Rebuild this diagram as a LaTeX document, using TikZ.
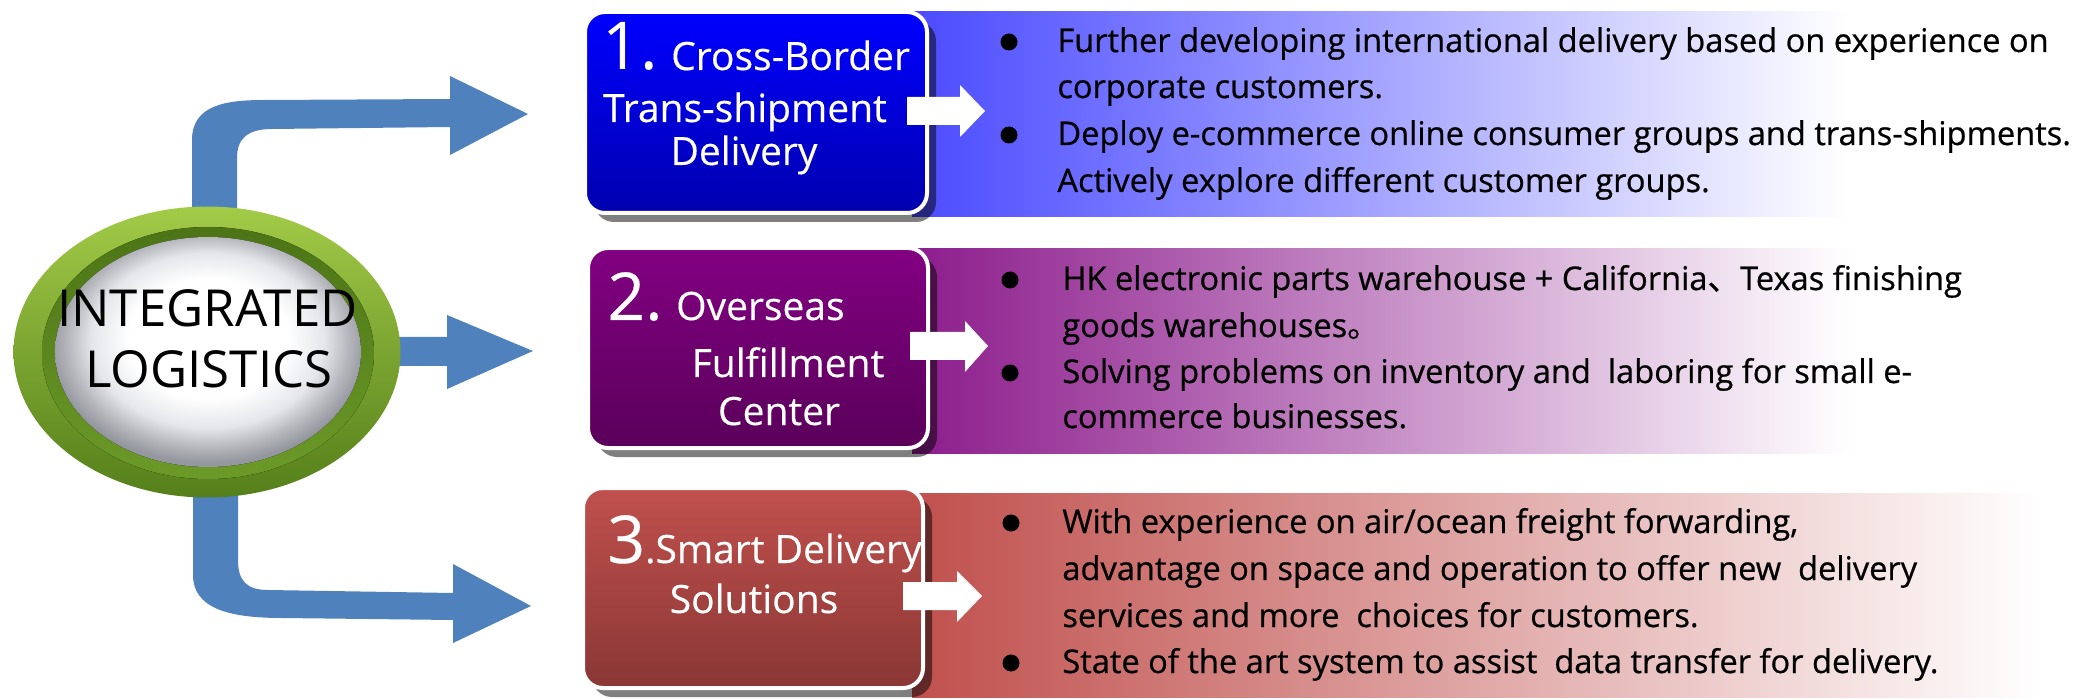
\documentclass[tikz,border=0pt]{standalone}
\usepackage{fontspec}
\setmainfont{Open Sans}
\newfontfamily\bulfont{Open Sans}[FakeBold=0.6]
\newfontfamily\ttlfont{Open Sans}[FakeBold=0.3]
\newfontfamily\cjk{Noto Sans CJK SC}[FakeBold=0.6]
\usetikzlibrary{shapes.geometric}
\definecolor{arrowblue}{HTML}{4F81BD}
\definecolor{boxAt}{HTML}{0000FF}
\definecolor{boxAb}{HTML}{0000AE}
\definecolor{panA}{HTML}{4B4BFF}
\definecolor{boxBt}{HTML}{820082}
\definecolor{boxBb}{HTML}{5A005A}
\definecolor{panB}{HTML}{8C1C8C}
\definecolor{boxCt}{HTML}{C0504D}
\definecolor{boxCb}{HTML}{8A3735}
\definecolor{panC}{HTML}{C0504D}
\definecolor{ringLight}{HTML}{A2CB48}
\definecolor{ringDark}{HTML}{557F1A}
\definecolor{rimDark}{HTML}{4C7416}
\definecolor{rimLight}{HTML}{6C9A28}
\definecolor{hubA}{HTML}{E4E6EA}
\definecolor{hubB}{HTML}{B4B6BC}
\definecolor{hubC}{HTML}{95979E}
\pgfdeclareradialshading{hubshade}{\pgfpoint{0bp}{4bp}}{color(0bp)=(white); color(13bp)=(white); color(19bp)=(hubA); color(23bp)=(hubB); color(26bp)=(hubC); color(50bp)=(hubC)}
\newcommand{\bignum}{\fontsize{33}{33}\selectfont}
\tikzset{
  panel/.style={rectangle, inner sep=0pt, right color=white},
  boxnode/.style={rectangle, rounded corners=10pt, draw=white, line width=2pt, inner sep=0pt},
  boxshadow/.style={fill=black, opacity=0.5, rounded corners=10pt},
  bul/.style={circle, fill=black, inner sep=0pt, minimum size=8.5pt},
  btxt/.style={anchor=base west, inner sep=0pt, font=\bulfont\fontsize{16.3}{20}\selectfont},
  ttl/.style={anchor=base, inner sep=0pt, text=white, font=\ttlfont\fontsize{19.5}{24}\selectfont},
  ttlw/.style={ttl, anchor=base west},
  hubtxt/.style={anchor=base, inner sep=0pt, font=\fontsize{25.5}{30}\selectfont},
  blockw/.style={fill=white},
  blockb/.style={fill=arrowblue}
}
\begin{document}
\begin{tikzpicture}[x=0.5pt,y=-0.5pt]
\useasboundingbox (0,0) rectangle (2100,700);

% panels
\node (p1) [panel, left color=panA, minimum width=469pt, minimum height=102.5pt] at (1381,114.5) {};
\node (p2) [panel, left color=panB, minimum width=469pt, minimum height=102pt] at (1381,351) {};
\node (p3) [panel, left color=panC, minimum width=564pt, minimum height=102pt] at (1476,595) {};

% box shadows
\fill[boxshadow] (594,21) rectangle (936,222);
\fill[boxshadow] (597,257) rectangle (937,457);
\fill[boxshadow] (592,497) rectangle (932,697);

% boxes
\node (b1) [boxnode, top color=boxAt, bottom color=boxAb, minimum width=171pt, minimum height=100.5pt] at (756,112.5) {};
\node (b2) [boxnode, top color=boxBt, bottom color=boxBb, minimum width=170pt, minimum height=100pt] at (758,348) {};
\node (b3) [boxnode, top color=boxCt, bottom color=boxCb, minimum width=170pt, minimum height=100pt] at (753,588) {};

% box titles
\node (t1a) [ttlw] at (602,70) {{\setmainfont{Open Sans}\bignum 1.} Cross-Border};
\node (t1b) [ttl] at (745,122) {Trans-shipment};
\node (t1c) [ttl] at (744,165) {Delivery};
\node (t2a) [ttlw] at (607,320) {{\bignum 2.} Overseas};
\node (t2b) [ttl] at (788,377) {Fulfillment};
\node (t2c) [ttl] at (779,425) {Center};
\node (t3a) [ttlw] at (607,563) {{\bignum 3}.Smart Delivery};
\node (t3b) [ttl] at (754,613) {Solutions};

% white block arrows box -> panel
\fill[blockw] (907,97) -- (960,97) -- (960,85) -- (985,111) -- (960,137) -- (960,125) -- (907,125) -- cycle;
\fill[blockw] (910,332) -- (965,332) -- (965,321) -- (988,346) -- (965,372) -- (965,360) -- (910,360) -- cycle;
\fill[blockw] (903,582) -- (957,582) -- (957,571) -- (982,596) -- (957,622) -- (957,610) -- (903,610) -- cycle;

% panel 1 text
\node (d1a) [bul] at (1009,42) {};
\node (l1a) [btxt] at (1057,52) {Further developing international delivery based on experience on};
\node (l1b) [btxt] at (1057,98) {corporate customers.};
\node (d1b) [bul] at (1009,135) {};
\node (l1c) [btxt] at (1057,145) {Deploy e-commerce online consumer groups and trans-shipments.};
\node (l1d) [btxt] at (1057,192) {Actively explore different customer groups.};

% panel 2 text
\node (d2a) [bul] at (1010,280) {};
\node (l2a) [btxt] at (1062,290) {HK electronic parts warehouse + California{\cjk 、}Texas finishing};
\node (l2b) [btxt] at (1062,337) {goods warehouses{\cjk 。}};
\node (d2b) [bul] at (1010,373) {};
\node (l2c) [btxt] at (1062,383) {Solving problems on inventory and\ \ laboring for small e-};
\node (l2d) [btxt] at (1062,428) {commerce businesses.};

% panel 3 text
\node (d3a) [bul] at (1011,523) {};
\node (l3a) [btxt] at (1062,533) {With experience on air/ocean freight forwarding,};
\node (l3b) [btxt] at (1062,580) {advantage on space and operation to offer new\ \ delivery};
\node (l3c) [btxt] at (1062,627) {services and more\ \ choices for customers.};
\node (d3b) [bul] at (1011,663) {};
\node (l3d) [btxt] at (1062,673) {State of the art system to assist\ \ data transfer for delivery.};

% blue arrows from hub
\fill[blockb] (192,300) -- (192,140) .. controls (192,104) and (228,100) .. (265,100) -- (450,99) -- (450,76) -- (528,114) -- (450,155) -- (450,127) -- (272,129) .. controls (247,129) and (237,139) .. (237,158) -- (237,300) -- cycle;
\fill[blockb] (300,337) -- (447,337) -- (447,315) -- (533,351) -- (447,389) -- (447,366) -- (300,366) -- cycle;
\fill[blockb] (193,400) -- (193,575) .. controls (193,608) and (228,618) .. (282,618) -- (453,620) -- (453,643) -- (531,606) -- (453,564) -- (453,593) -- (268,590) .. controls (246,590) and (238,580) .. (238,560) -- (238,400) -- cycle;

% hub
\node (hub) [ellipse, top color=ringLight, bottom color=ringDark, minimum width=193.5pt, minimum height=145.5pt, inner sep=0pt] at (207,352) {};
\fill[top color=rimDark, bottom color=rimLight] (208,353) ellipse [x radius=166, y radius=126];
\fill[shading=hubshade] (208,352) ellipse [x radius=153, y radius=115];
\node (h1) [hubtxt] at (207.5,327) {INTEGRATED};
\node (h2) [hubtxt] at (209,387) {LOGISTICS};
\end{tikzpicture}
\end{document}
